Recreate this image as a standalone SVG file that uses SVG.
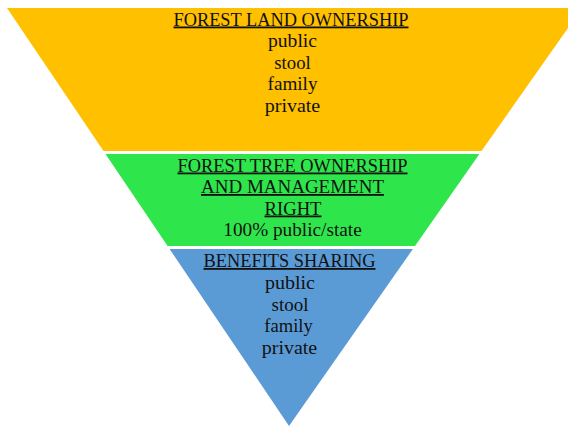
<svg xmlns="http://www.w3.org/2000/svg" width="568" height="426" viewBox="0 0 568 426">
<style>
text{font-family:"Liberation Serif","Times New Roman",serif;font-size:18px;fill:#111;text-anchor:middle}
.b{font-size:19px}
.h{text-decoration:underline}
</style>
<rect width="568" height="426" fill="#fff"/>
<g id="land">
<polygon points="7,8 582,8 481.5,151 103.5,151" fill="#FFC000"/>
<text class="h" x="291" y="25.5" textLength="235" lengthAdjust="spacingAndGlyphs">FOREST LAND OWNERSHIP</text>
<text class="b" x="292.5" y="47" textLength="49" lengthAdjust="spacingAndGlyphs">public</text>
<text class="b" x="292.5" y="68.5" textLength="36.5" lengthAdjust="spacingAndGlyphs">stool</text>
<text class="b" x="292.5" y="90" textLength="50" lengthAdjust="spacingAndGlyphs">family</text>
<text class="b" x="292.5" y="111.5" textLength="55.5" lengthAdjust="spacingAndGlyphs">private</text>
</g>
<g id="tree">
<polygon points="105.5,154 479.4,154 415,246 167.6,246" fill="#2EE64B"/>
<text class="h" x="292.5" y="171.5" textLength="230" lengthAdjust="spacingAndGlyphs">FOREST TREE OWNERSHIP</text>
<text class="h" x="292.5" y="193" textLength="183" lengthAdjust="spacingAndGlyphs">AND MANAGEMENT</text>
<text class="h" x="293" y="214.5" textLength="57" lengthAdjust="spacingAndGlyphs">RIGHT</text>
<text class="b" x="292.5" y="236" textLength="138.5" lengthAdjust="spacingAndGlyphs">100% public/state</text>
</g>
<g id="benefits">
<polygon points="169.6,249 412.9,249 289,426" fill="#5B9BD5"/>
<text class="h" x="289.5" y="267" textLength="172" lengthAdjust="spacingAndGlyphs">BENEFITS SHARING</text>
<text class="b" x="290" y="289" textLength="50" lengthAdjust="spacingAndGlyphs">public</text>
<text class="b" x="290" y="310.5" textLength="37" lengthAdjust="spacingAndGlyphs">stool</text>
<text class="b" x="288.5" y="332" textLength="48.5" lengthAdjust="spacingAndGlyphs">family</text>
<text class="b" x="289.5" y="353.5" textLength="55.5" lengthAdjust="spacingAndGlyphs">private</text>
</g>
<g id="connectors"/>
</svg>
